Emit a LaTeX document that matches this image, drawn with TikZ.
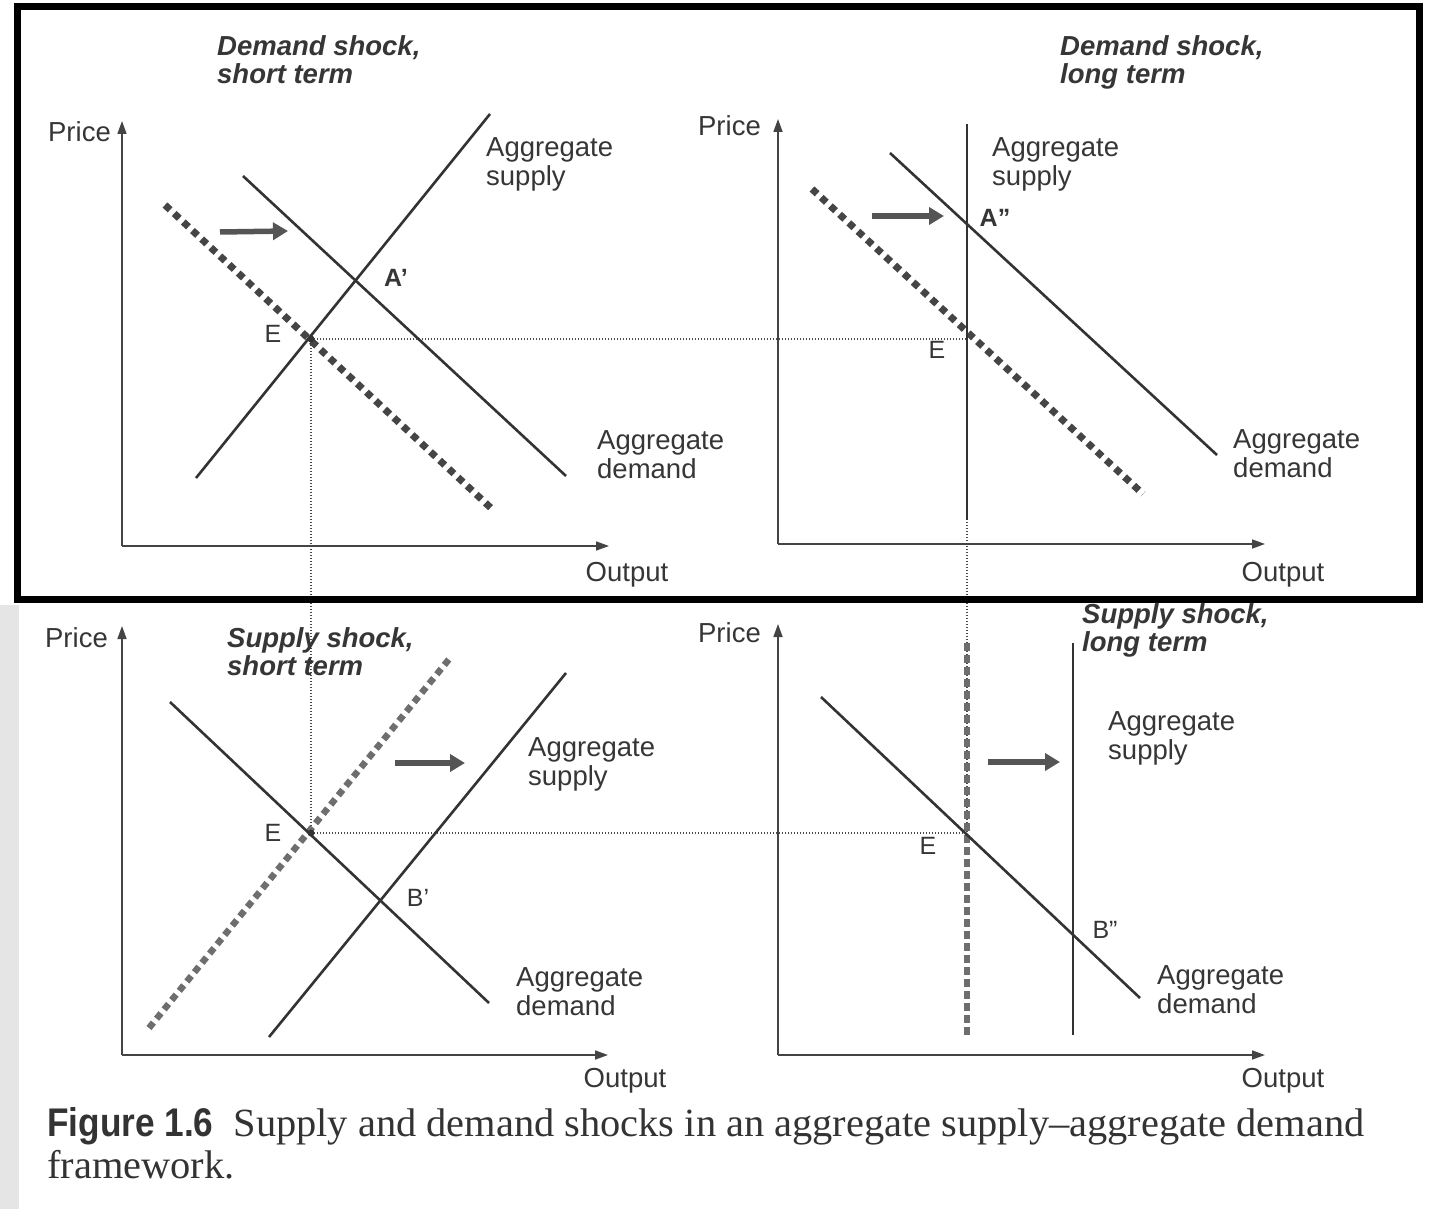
\documentclass[tikz,border=0pt]{standalone}
\usepackage{fontspec}
\setmainfont{Liberation Serif}
\setsansfont{Liberation Sans}
\newfontfamily\capserif[FakeStretch=1.01]{Liberation Serif}
\newfontfamily\capsans[FakeStretch=0.88]{Liberation Sans}
\usetikzlibrary{arrows.meta}

\definecolor{inkgray}{HTML}{333333}
\definecolor{axisgray}{HTML}{444444}
\definecolor{shiftgray}{HTML}{454545}
\definecolor{shiftlight}{HTML}{6E6E6E}
\definecolor{arrowgray}{HTML}{555555}
\definecolor{dotgray}{HTML}{4A4A4A}
\definecolor{txtgray}{HTML}{363636}

\begin{document}
\begin{tikzpicture}[x=1pt,y=-1pt,
  axis/.style={line width=1.7pt, draw=axisgray, -{Triangle[length=13pt,width=9pt]}},
  curve/.style={line width=2.6pt, draw=inkgray},
  shiftdash/.style={line width=7pt, draw=shiftgray, dash pattern=on 7pt off 5.5pt},
  shiftdashlight/.style={line width=6.5pt, draw=shiftlight, dash pattern=on 7pt off 5pt},
  guide/.style={line width=1.3pt, draw=dotgray, dash pattern=on 1.4pt off 1.6pt},
  shiftarrow/.style={line width=5.5pt, draw=arrowgray, -{Triangle[length=15pt,width=17pt]}},
  lbl/.style={font=\sffamily\fontsize{27.5}{29}\selectfont, text=txtgray, align=left, inner sep=0pt},
  ttl/.style={font=\sffamily\bfseries\itshape\fontsize{27.5}{28}\selectfont, text=txtgray, align=left, inner sep=0pt},
  pt/.style={font=\sffamily\fontsize{25}{26}\selectfont, text=txtgray, inner sep=0pt},
  eqdot/.style={circle, fill=inkgray, inner sep=0pt, minimum size=7pt}
]
% page
\useasboundingbox (0,0) rectangle (1433,1209);
\fill[white] (0,0) rectangle (1433,1209);
\fill[black!10] (0,605) rectangle (19,1209);

% equilibrium points shared between the panels
\coordinate (E1) at (311,339);
\coordinate (E2) at (967,339);
\coordinate (E3) at (311,833);
\coordinate (E4) at (967,833);

% dotted guides linking the equilibria
\draw[guide] (E1) -- (E2);
\draw[guide] (E1) -- (E3);
\draw[guide] (E3) -- (E4);
\draw[guide] (E2) -- (E4);

% ---------- demand shock, short term ----------
\coordinate (o1) at (122,546);
\coordinate (y1) at (122,121);
\coordinate (x1) at (609,546);
\draw[axis] (o1) -- (y1);
\draw[axis] (o1) -- (x1);
\coordinate (as1a) at (196,478); \coordinate (as1b) at (490,114);
\coordinate (ad1a) at (243,176); \coordinate (ad1b) at (566,476);
\coordinate (od1a) at (165,205); \coordinate (od1b) at (492,509);
\draw[shiftdash] (od1a) -- (od1b);
\draw[curve] (as1a) -- (as1b);
\draw[curve] (ad1a) -- (ad1b);
\coordinate (ar1a) at (220,232); \coordinate (ar1b) at (288,231);
\draw[shiftarrow] (ar1a) -- (ar1b);
\node[eqdot] (d1) at (E1) {};
\node[ttl, anchor=north west] (t1) at (217,35) {Demand shock,\\short term};
\node[lbl, anchor=east] (p1) at (111,132) {Price};
\node[lbl, anchor=north] (q1) at (627,562) {Output};
\node[lbl, anchor=north west] (s1) at (486,137) {Aggregate\\supply};
\node[lbl, anchor=north west] (m1) at (597,430) {Aggregate\\demand};
\node[pt] (la1) at (396,278) {\bfseries A’};
\node[pt] (le1) at (273,334) {E};

% ---------- demand shock, long term ----------
\coordinate (o2) at (778,544);
\coordinate (y2) at (778,119);
\coordinate (x2) at (1265,544);
\draw[axis] (o2) -- (y2);
\draw[axis] (o2) -- (x2);
\coordinate (as2a) at (967,124); \coordinate (as2b) at (967,520);
\coordinate (ad2a) at (890,153); \coordinate (ad2b) at (1217,455);
\coordinate (od2a) at (812,189); \coordinate (od2b) at (1143,494);
\draw[shiftdash] (od2a) -- (od2b);
\draw[curve] (as2a) -- (as2b);
\draw[curve] (ad2a) -- (ad2b);
\coordinate (ar2a) at (872,216); \coordinate (ar2b) at (944,216);
\draw[shiftarrow] (ar2a) -- (ar2b);
\node[ttl, anchor=north west] (t2) at (1060,35) {Demand shock,\\long term};
\node[lbl, anchor=east] (p2) at (761,126) {Price};
\node[lbl, anchor=north] (q2) at (1283,562) {Output};
\node[lbl, anchor=north west] (s2) at (992,137) {Aggregate\\supply};
\node[lbl, anchor=north west] (m2) at (1233,429) {Aggregate\\demand};
\node[pt] (la2) at (995,218) {\bfseries A”};
\node[pt] (le2) at (937,350) {E};

% ---------- supply shock, short term ----------
\coordinate (o3) at (122,1055);
\coordinate (y3) at (122,626);
\coordinate (x3) at (608,1055);
\draw[axis] (o3) -- (y3);
\draw[axis] (o3) -- (x3);
\coordinate (ad3a) at (170,702); \coordinate (ad3b) at (489,1003);
\coordinate (os3a) at (149,1028); \coordinate (os3b) at (450,658);
\coordinate (as3a) at (269,1037); \coordinate (as3b) at (566,673);
\draw[shiftdashlight] (os3a) -- (os3b);
\draw[curve] (as3a) -- (as3b);
\draw[curve] (ad3a) -- (ad3b);
\coordinate (ar3a) at (395,763); \coordinate (ar3b) at (465,763);
\draw[shiftarrow] (ar3a) -- (ar3b);
\node[eqdot] (d3) at (E3) {};
\node[ttl, anchor=north west] (t3) at (227,627) {Supply shock,\\short term};
\node[lbl, anchor=east] (p3) at (108,638) {Price};
\node[lbl, anchor=north] (q3) at (625,1068) {Output};
\node[lbl, anchor=north west] (s3) at (528,737) {Aggregate\\supply};
\node[lbl, anchor=north west] (m3) at (516,967) {Aggregate\\demand};
\node[pt] (lb3) at (418,898) {B’};
\node[pt] (le3) at (273,833) {E};

% ---------- supply shock, long term ----------
\coordinate (o4) at (778,1055);
\coordinate (y4) at (778,624);
\coordinate (x4) at (1265,1055);
\draw[axis] (o4) -- (y4);
\draw[axis] (o4) -- (x4);
\coordinate (os4a) at (967,643); \coordinate (os4b) at (967,1035);
\coordinate (as4a) at (1073,643); \coordinate (as4b) at (1073,1035);
\coordinate (ad4a) at (821,697); \coordinate (ad4b) at (1140,998);
\draw[shiftdashlight, line width=6pt, dash pattern=on 8pt off 4pt] (os4a) -- (os4b);
\draw[curve] (as4a) -- (as4b);
\draw[curve] (ad4a) -- (ad4b);
\coordinate (ar4a) at (988,762); \coordinate (ar4b) at (1060,762);
\draw[shiftarrow] (ar4a) -- (ar4b);
\node[ttl, anchor=north west] (t4) at (1082,603) {Supply shock,\\long term};
\node[lbl, anchor=east] (p4) at (761,633) {Price};
\node[lbl, anchor=north] (q4) at (1283,1068) {Output};
\node[lbl, anchor=north west] (s4) at (1108,711) {Aggregate\\supply};
\node[lbl, anchor=north west] (m4) at (1157,965) {Aggregate\\demand};
\node[pt] (lb4) at (1105,930) {B”};
\node[pt] (le4) at (928,846) {E};

% frame round the demand-shock panels
\draw[line width=7pt, black] (17,7) rectangle (1419,599);

% caption
\node[anchor=north west, inner sep=0pt, align=left, text=black!80,
      font=\capserif\fontsize{40}{42}\selectfont] (cap) at (47,1107)
  {{\capsans\bfseries Figure 1.6}\ \ Supply and demand shocks in an aggregate supply–aggregate demand\\framework.};
\end{tikzpicture}
\end{document}
